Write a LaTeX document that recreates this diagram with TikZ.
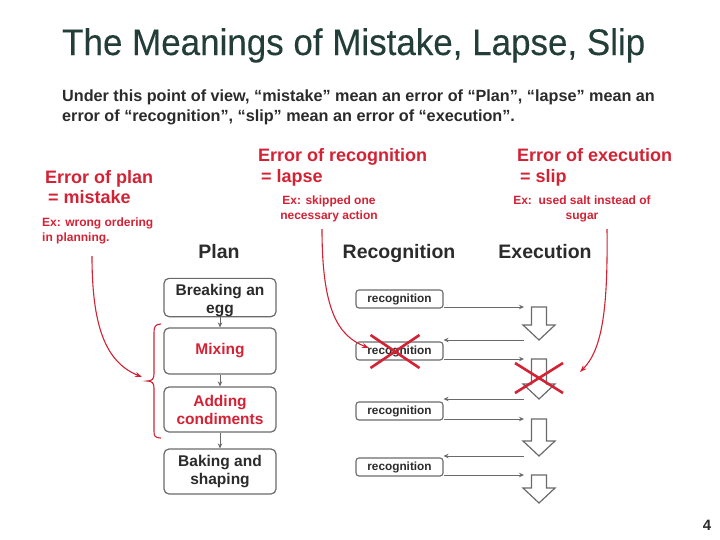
\documentclass[tikz,border=0pt]{standalone}
\usepackage{fontspec}
\setmainfont{Liberation Sans}
\newfontfamily\titlefont[FakeStretch=0.945,FakeBold=0.15]{Liberation Sans}
\usetikzlibrary{arrows.meta}
\definecolor{titlecol}{HTML}{233D38}
\definecolor{redc}{HTML}{D42235}
\definecolor{boxgray}{HTML}{6A6A6A}
\definecolor{txt}{HTML}{2B2B2B}
\tikzset{
  planbox/.style={draw=boxgray, line width=1.2pt, rounded corners=5pt, minimum width=112pt,
    inner sep=0pt, align=center, font=\bfseries\fontsize{15.5}{18}\selectfont, text=txt, fill=white},
  recbox/.style={draw=boxgray, line width=1.1pt, rounded corners=3pt, minimum width=87pt,
    minimum height=18pt, inner sep=0pt, font=\bfseries\fontsize{11.8}{13}\selectfont, text=txt},
  conn/.style={draw=boxgray, line width=0.9pt, -{Stealth[length=5pt,width=4.5pt]}},
  redarrow/.style={draw=redc, line width=1.1pt, -{Stealth[length=7pt,width=5pt]}},
  crossline/.style={draw=redc, line width=2.6pt},
  blkarrow/.style={draw=boxgray, line width=1.2pt, fill=white, line join=miter},
  rednote/.style={inner sep=0pt, text=redc, font=\bfseries\fontsize{18}{21}\selectfont, align=left},
  smallnote/.style={inner sep=0pt, text=redc, font=\bfseries\fontsize{12}{14.5}\selectfont},
  header/.style={inner sep=0pt, text=txt, font=\bfseries\fontsize{19.5}{22}\selectfont, anchor=base},
}
\begin{document}
\begin{tikzpicture}[x=1pt,y=-1pt]
\useasboundingbox[fill=white] (0,0) rectangle (720,539);

% title and subtitle
\node[anchor=base west, inner sep=0pt, text=titlecol, font=\titlefont\fontsize{37}{40}\selectfont] (title) at (62,55)
  {The Meanings of Mistake, Lapse, Slip};
\node[anchor=north west, inner sep=0pt, align=left, text=txt, font=\bfseries\fontsize{16.2}{19.5}\selectfont] (sub) at (62,90)
  {Under this point of view, “mistake” mean an error of “Plan”, “lapse” mean an\\error of “recognition”, “slip” mean an error of “execution”.};

% red headings
\node[rednote, anchor=north west] (hplan) at (45,170) {Error of plan\\[-1pt]\hspace{3pt}= mistake};
\node[rednote, anchor=north west] (hrec) at (258,148) {Error of recognition\\\hspace{3pt}= lapse};
\node[rednote, anchor=north west] (hexe) at (517,148) {Error of execution\\\hspace{3pt}= slip};

\node[smallnote, anchor=north west, align=left] (nplan) at (42,218) {Ex: wrong ordering\\in planning.};
\node[smallnote, anchor=north, align=center] (nrec) at (329,196) {Ex: skipped one\\necessary action};
\node[smallnote, anchor=north, align=center] (nexe) at (582,196) {Ex:\ \ used salt instead of\\sugar};

% headers
\node[header] (hdplan) at (219,258) {Plan};
\node[header] (hdrec) at (399,258) {Recognition};
\node[header] (hdexe) at (545,258) {Execution};

% plan boxes
\node[planbox, minimum height=37pt] (p1) at (220,297.5) {\rule{0pt}{17pt}Breaking an\\egg};
\node[planbox, minimum height=46pt, text=redc] (p2) at (220,351) {Mixing};
\node[planbox, minimum height=45pt, text=redc] (p3) at (220,409.5) {Adding\\condiments};
\node[planbox, minimum height=45pt] (p4) at (220,471.5) {Baking and\\shaping};
\draw[conn] (p1) -- (p2);
\draw[conn] (p2) -- (p3);
\draw[conn] (p3) -- (p4);

% brace
\draw[redc, line width=1.1pt] (161,324) .. controls (155,324) and (154,327) .. (154,333)
  -- (154,374) .. controls (154,379) and (152,381) .. (147,381)
  .. controls (152,381) and (154,383) .. (154,388)
  -- (154,431) .. controls (154,436) and (155,438) .. (161,438);
\coordinate (brtip) at (142,377);
\coordinate (plstart) at (92,256);
\draw[redarrow] (plstart) .. controls (92,325) and (105,362) .. (brtip);

% recognition boxes
\node[recbox] (r1) at (399.5,299) {recognition};
\node[recbox] (r2) at (399.5,351) {recognition};
\node[recbox] (r3) at (399.5,411) {recognition};
\node[recbox] (r4) at (399.5,467) {recognition};

% execution block arrows
\foreach \i/\t/\b in {1/307/340, 2/359/399, 3/419/456, 4/475/503} {
  \draw[blkarrow] (531.5,\t) -- (546.5,\t) -- (546.5,\b-15) -- (555,\b-15) -- (539,\b)
     -- (523,\b-15) -- (531.5,\b-15) -- cycle;
  \coordinate (ein\i) at (524,\t);
  \coordinate (eout\i) at (524,\b);
}

\draw[conn] (r1.east |- ein1) -- (ein1);
\draw[conn] (eout1) -- (r2.east |- eout1);
\draw[conn] (r2.east |- ein2) -- (ein2);
\draw[conn] (eout2) -- (r3.east |- eout2);
\draw[conn] (r3.east |- ein3) -- (ein3);
\draw[conn] (eout3) -- (r4.east |- eout3);
\draw[conn] (r4.east |- ein4) -- (ein4);

% lapse arrow and cross
\coordinate (lpstart) at (322,229);
\coordinate (lpend) at (369,348);
\draw[redarrow] (lpstart) .. controls (322,310) and (338,336) .. (lpend);
\draw[crossline] ([shift={(-29,-16)}]r2.center) -- ([shift={(20,17)}]r2.center);
\draw[crossline] ([shift={(-29,17)}]r2.center) -- ([shift={(20,-16)}]r2.center);

% slip arrow and cross
\coordinate (slstart) at (607,229);
\coordinate (slend) at (580,372);
\draw[redarrow] (slstart) .. controls (608,310) and (602,350) .. (slend);
\coordinate (xb) at (539,378);
\draw[crossline] ([shift={(-24,-15)}]xb) -- ([shift={(24,15)}]xb);
\draw[crossline] ([shift={(-24,15)}]xb) -- ([shift={(24,-15)}]xb);

% page number
\node[anchor=base, inner sep=0pt, text=txt, font=\bfseries\fontsize{15}{15}\selectfont] (pg) at (707,530) {4};
\end{tikzpicture}
\end{document}
